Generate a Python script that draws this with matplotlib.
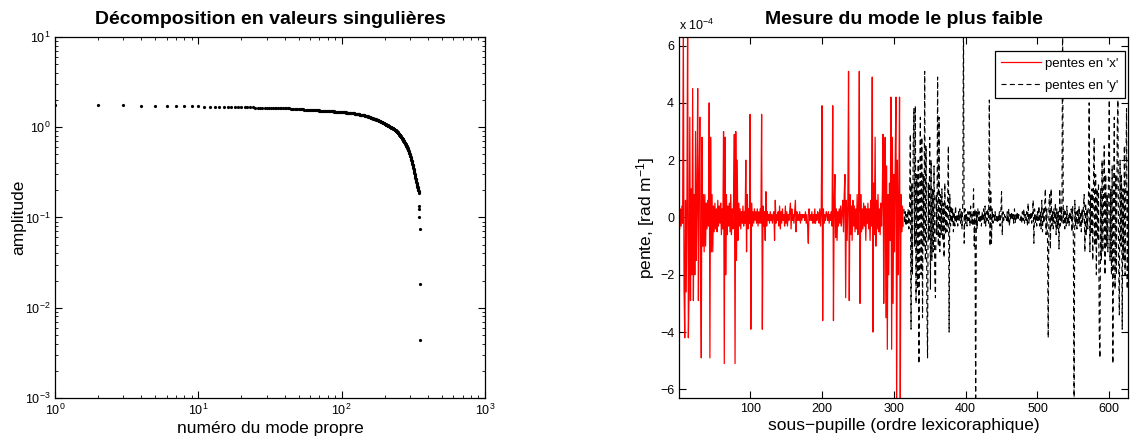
import numpy as np
import matplotlib
matplotlib.use("Agg")
import matplotlib.pyplot as plt
from matplotlib.ticker import FuncFormatter, LogLocator, FixedLocator

plt.rcParams['font.family'] = ['Liberation Sans', 'DejaVu Sans']
plt.rcParams['mathtext.fontset'] = 'custom'
plt.rcParams['mathtext.rm'] = 'Liberation Sans'
plt.rcParams['mathtext.it'] = 'Liberation Sans:italic'
plt.rcParams['mathtext.bf'] = 'Liberation Sans:bold'

# ---------------- data: singular values (mode 1..352) ----------------
singular_values = [
    1.760, 1.752, 1.745, 1.738, 1.731, 1.724, 1.718, 1.712, 1.706, 1.700,
    1.696, 1.692, 1.688, 1.684, 1.680, 1.677, 1.674, 1.671, 1.668, 1.665,
    1.662, 1.660, 1.657, 1.655, 1.653, 1.651, 1.649, 1.647, 1.645, 1.643,
    1.641, 1.639, 1.637, 1.635, 1.633, 1.631, 1.629, 1.627, 1.625, 1.623,
    1.620, 1.617, 1.614, 1.610, 1.606, 1.602, 1.598, 1.594, 1.590, 1.586,
    1.583, 1.580, 1.577, 1.574, 1.571, 1.568, 1.565, 1.562, 1.559, 1.556,
    1.553, 1.550, 1.548, 1.545, 1.543, 1.540, 1.538, 1.535, 1.533, 1.530,
    1.528, 1.526, 1.524, 1.522, 1.520, 1.518, 1.516, 1.514, 1.512, 1.510,
    1.508, 1.506, 1.504, 1.502, 1.500, 1.498, 1.496, 1.494, 1.492, 1.490,
    1.488, 1.486, 1.484, 1.482, 1.480, 1.478, 1.476, 1.474, 1.472, 1.470,
    1.468, 1.466, 1.464, 1.462, 1.460, 1.458, 1.456, 1.454, 1.452, 1.450,
    1.448, 1.446, 1.444, 1.442, 1.440, 1.437, 1.434, 1.431, 1.428, 1.425,
    1.422, 1.419, 1.416, 1.413, 1.410, 1.407, 1.404, 1.401, 1.398, 1.395,
    1.392, 1.389, 1.386, 1.383, 1.380, 1.377, 1.374, 1.371, 1.368, 1.365,
    1.361, 1.357, 1.353, 1.349, 1.345, 1.341, 1.337, 1.333, 1.329, 1.325,
    1.320, 1.315, 1.310, 1.305, 1.300, 1.295, 1.290, 1.285, 1.280, 1.275,
    1.266, 1.262, 1.258, 1.254, 1.250, 1.246, 1.242, 1.238, 1.234, 1.230,
    1.226, 1.222, 1.218, 1.214, 1.210, 1.206, 1.202, 1.198, 1.194, 1.190,
    1.185, 1.180, 1.175, 1.170, 1.165, 1.160, 1.155, 1.150, 1.145, 1.140,
    1.135, 1.130, 1.125, 1.120, 1.115, 1.110, 1.105, 1.100, 1.095, 1.090,
    1.085, 1.080, 1.075, 1.070, 1.065, 1.060, 1.055, 1.050, 1.045, 1.040,
    1.036, 1.032, 1.028, 1.024, 1.020, 1.016, 1.012, 1.008, 1.004, 1.000,
    0.996, 0.992, 0.988, 0.984, 0.980, 0.976, 0.972, 0.968, 0.964, 0.960,
    0.955, 0.950, 0.945, 0.940, 0.935, 0.930, 0.925, 0.920, 0.915, 0.910,
    0.904, 0.898, 0.892, 0.886, 0.880, 0.874, 0.868, 0.862, 0.856, 0.850,
    0.843, 0.836, 0.829, 0.822, 0.815, 0.808, 0.801, 0.794, 0.787, 0.780,
    0.773, 0.766, 0.759, 0.752, 0.745, 0.738, 0.731, 0.724, 0.717, 0.710,
    0.703, 0.696, 0.689, 0.682, 0.675, 0.668, 0.661, 0.654, 0.647, 0.640,
    0.633, 0.626, 0.619, 0.612, 0.605, 0.598, 0.591, 0.584, 0.577, 0.570,
    0.562, 0.554, 0.546, 0.538, 0.530, 0.522, 0.514, 0.506, 0.498, 0.490,
    0.482, 0.474, 0.466, 0.458, 0.450, 0.442, 0.434, 0.426, 0.418, 0.410,
    0.402, 0.394, 0.386, 0.378, 0.370, 0.362, 0.354, 0.346, 0.338, 0.330,
    0.322, 0.314, 0.306, 0.298, 0.291, 0.284, 0.277, 0.270, 0.264, 0.258,
    0.252, 0.246, 0.241, 0.236, 0.232, 0.228, 0.224, 0.220, 0.216, 0.212,
    0.208, 0.204, 0.200, 0.196, 0.190, 0.185, 0.134, 0.124, 0.102, 0.075,
    0.0183, 0.0044,
]
mode_numbers = list(range(1, len(singular_values) + 1))

# ---------------- data: weakest mode slopes (units of 1e-5 rad/m) ----------------
slopes_x_1e5 = [
    4, -4, 3, -3, 4, -2, 70, -25, -42, 6,
    -26, 5, 70, -42, -25, 35, -29, 10, -20, 45,
    -29, 8, -20, 30, -15, 6, 45, -29, 12, 35,
    -18, -49, 28, -10, 8, -12, 8, -10, 5, -4,
    6, -3, 40, -49, 28, -12, 8, -12, 4, -5,
    5, -4, 3, -5, 6, -3, 4, -2, 5, -6,
    3, -4, 30, -51, 28, -20, 8, -6, 4, -3,
    5, -5, 8, -6, 3, -4, 6, 29, -51, 30,
    -15, 20, -8, 5, -3, 3, -4, 2, -2, 4,
    -3, 2, -2, 20, -12, 8, -4, 3, -2, 36,
    -39, 5, -3, 2, -2, 3, -1, 2, -2, 3,
    -3, 2, -2, 3, -2, 36, -39, 4, -3, 2,
    -8, 9, -3, 2, -1, 1, -2, 2, -1, 1,
    -2, 1, 2, -8, 6, -2, 1, -1, 2, -3,
    4, -4, 2, -2, 3, -1, 1, -3, 4, -2,
    2, -3, 1, -1, 2, 5, -4, 3, -1, 1,
    -2, 2, 6, -5, 2, -1, 1, -1, 2, -2,
    1, -1, 1, 0, 1, -1, 2, -2, 1, -3,
    -9, 3, -1, 1, -1, 2, -2, 1, -2, 3,
    -2, 1, -1, 2, 1, -2, 3, -3, 2, 39,
    -36, 3, -2, 1, -1, 2, 1, -1, 2, -2,
    1, -1, 2, -3, 39, -36, 5, 15, -7, 3,
    -8, 2, -3, 3, -2, 4, -3, 2, 6, -5,
    8, 15, -28, 6, -8, 4, 51, -29, 8, -6,
    4, -8, 6, -3, 4, -5, 3, -4, 8, -6,
    4, 51, -30, 8, -5, 3, -4, 5, -3, 4,
    -8, 3, -2, 5, -4, 3, -8, 6, -3, 49,
    -40, 12, -6, 28, -10, 6, -4, 8, -5, 3,
    -6, 5, -3, 8, 29, -30, 10, 28, -35, 18,
    -46, 8, -20, 12, -8, 42, -46, 28, -30, 15,
    -12, 20, 42, -70, 20, -20, 8, 42, -70, 8,
    -5, 4, -3,
]
slopes_y_1e5 = [
    3, -2, 2, -3, 1, -2, 3, -4, 2, 29,
    -39, 12, -20, 25, 38, -10, 39, -30, 15, -25,
    20, -51, 10, 35, -20, 28, -35, 15, -10, 51,
    -15, 25, -30, -49, 12, -8, 28, -25, 20, -15,
    10, -12, 18, -20, -28, 8, -6, 49, -10, 35,
    -12, 8, -6, 10, -8, 5, -14, 12, -6, 4,
    -5, 6, 25, -40, 8, -3, 4, -2, 3, -5,
    2, -3, 4, -2, 1, -3, 2, -1, 3, -2,
    2, -4, 5, 70, -9, 3, -2, 1, -3, 2,
    -1, 2, -3, 4, -2, 1, -3, 10, -10, 3,
    -70, 2, -4, 3, -1, 2, -2, 1, -3, 2,
    -1, 3, -2, 4, -3, 2, -1, 3, -2, 41,
    -10, 9, -9, 3, -2, 1, -1, 2, -1, 1,
    -2, 1, -1, 2, -3, 2, 9, -6, 2, -1,
    1, 0, 1, -1, 2, -2, 3, -3, 1, -1,
    2, -1, 1, -2, 3, -2, 1, -1, 2, -1,
    1, 0, -1, 1, -2, 2, -1, 3, -2, 1,
    -1, 2, -3, 5, -2, 1, -1, 2, -2, 1,
    6, -9, 3, -2, 1, -3, 2, -1, 4, -3,
    2, -4, 6, -5, 3, -2, 4, 10, -6, 3,
    -8, -42, 5, 8, -11, 10, -3, 2, -4, 3,
    -2, 5, -6, 3, -4, 2, -11, 10, -3, 4,
    -2, 70, -2, 3, -4, 2, -3, 4, -2, 1,
    -3, 2, -1, 3, -5, 4, -8, -70, 6, -3,
    2, -4, 3, -2, 4, -3, 2, -5, 3, -2,
    4, 8, -12, 5, -6, 3, -4, 6, 40, -12,
    8, -6, 10, -15, 12, 28, -10, 15, -20, 10,
    -8, 12, -40, -49, 10, -15, 20, -12, 8, 25,
    -20, 15, -10, 8, -12, 20, 41, -15, 10, -20,
    18, -51, 10, 35, -25, 15, -20, 30, 41, -15,
    -34, 20, -10, 15, -39, 10, -15, 25, -20, 12,
    38, -25, 10,
]
legend_labels = ["pentes en 'x'", "pentes en 'y'"]

n_x = len(slopes_x_1e5)
idx_x = np.arange(1, n_x + 1)
idx_y = np.arange(n_x + 1, n_x + len(slopes_y_1e5) + 1)
sx = np.array(slopes_x_1e5) * 1e-5
sy = np.array(slopes_y_1e5) * 1e-5

fig = plt.figure(figsize=(11.3, 4.4), dpi=100)

tick_kw = dict(direction='in', top=True, right=True, labelsize=9, width=0.8)

# ---------------- left: singular values ----------------
ax1 = fig.add_axes([0.0487, 0.0955, 0.3805, 0.8205])
ax1.loglog(mode_numbers, singular_values, linestyle='none', marker='o',
           markersize=2.3, markeredgewidth=0, color='black', clip_on=True)
ax1.set_xlim(1, 1000)
ax1.set_ylim(1e-3, 10)
ax1.xaxis.set_major_locator(LogLocator(base=10, numticks=10))
ax1.yaxis.set_major_locator(LogLocator(base=10, numticks=10))
ax1.xaxis.set_minor_locator(LogLocator(base=10, subs=np.arange(2, 10), numticks=20))
ax1.yaxis.set_minor_locator(LogLocator(base=10, subs=np.arange(2, 10), numticks=20))
ax1.tick_params(which='major', length=5, **tick_kw)
ax1.tick_params(which='minor', direction='in', top=True, right=True, length=2.5, width=0.6)
ax1.set_title("Décomposition en valeurs singulières", fontsize=14, fontweight='bold', pad=9)
ax1.set_xlabel("numéro du mode propre", fontsize=12.5, labelpad=2)
ax1.set_ylabel("amplitude", fontsize=12.5, labelpad=-1)
for s in ax1.spines.values():
    s.set_linewidth(0.9)

# ---------------- right: weakest mode ----------------
ax2 = fig.add_axes([0.6009, 0.0955, 0.3973, 0.8205])
ax2.plot(idx_x, sx, color='red', linewidth=0.9, label=legend_labels[0])
ax2.plot(idx_y, sy, color='black', linewidth=0.8, linestyle=(0, (4.5, 3)),
         label=legend_labels[1])
ax2.set_xlim(1, idx_y[-1])
ax2.set_ylim(-6.3e-4, 6.3e-4)
ax2.xaxis.set_major_locator(FixedLocator([100, 200, 300, 400, 500, 600]))
ax2.yaxis.set_major_locator(FixedLocator([-6e-4, -4e-4, -2e-4, 0, 2e-4, 4e-4, 6e-4]))
ax2.yaxis.set_major_formatter(FuncFormatter(
    lambda v, p: f"{int(round(v * 1e4))}".replace('-', '\u2212')))
ax2.tick_params(which='major', length=5, **tick_kw)
ax2.set_title("Mesure du mode le plus faible", fontsize=14, fontweight='bold', pad=9)
ax2.set_xlabel("sous\u2212pupille (ordre lexicoraphique)", fontsize=12.5, labelpad=2)
ax2.set_ylabel("pente, [rad m$^{\u22121}$]", fontsize=12.5, labelpad=2)
ax2.text(0.0, 1.012, "x 10$^{\u22124}$", transform=ax2.transAxes, fontsize=9,
         ha='left', va='bottom')
for s in ax2.spines.values():
    s.set_linewidth(0.9)
leg = ax2.legend(loc='upper right', bbox_to_anchor=(0.9924, 0.960), borderaxespad=0,
                 fontsize=9.5, fancybox=False, framealpha=1, edgecolor='black',
                 handlelength=3.0, handletextpad=0.35, borderpad=0.45,
                 labelspacing=0.74)
leg.get_frame().set_linewidth(0.9)

fig.savefig("out.png", dpi=100)
